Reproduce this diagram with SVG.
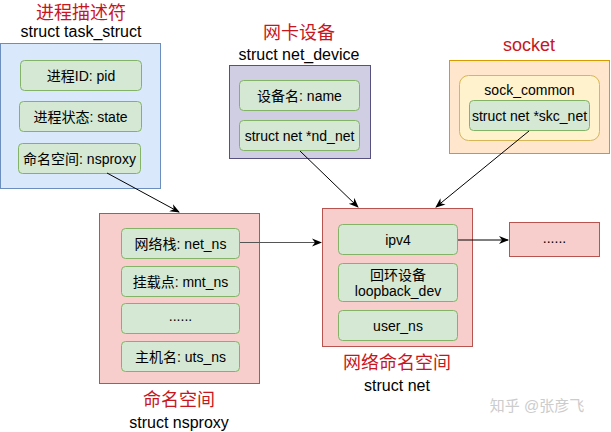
<svg xmlns="http://www.w3.org/2000/svg" width="611" height="432" viewBox="0 0 611 432">
<style>
text{font-family:"Liberation Sans","Noto Sans CJK SC",sans-serif;text-anchor:middle;dominant-baseline:central}
.t{font-size:18px;fill:#c8161d}
.s{font-size:16px;fill:#000}
.l{font-size:14px;fill:#000}
.g{fill:#d5e8d4;stroke:#82b366;stroke-width:1}
.r{fill:#f8cecc;stroke:#b85450;stroke-width:1}
.c{fill:none;stroke:#000;stroke-width:1}
</style>
<defs>
<marker id="a" viewBox="0 0 10 10" refX="9" refY="5" markerWidth="10" markerHeight="10" markerUnits="userSpaceOnUse" orient="auto">
<path d="M0,1 L10,5 L0,9 L3,5 Z" fill="#000"/>
</marker>
</defs>
<rect width="611" height="432" fill="#fff"/>
<g id="task_struct">
<text class="t" x="81" y="13">进程描述符</text>
<text class="s" x="81" y="31">struct task_struct</text>
<rect x="0.5" y="43.5" width="160" height="145" fill="#dae8fc" stroke="#6c8ebf"/>
<rect class="g" x="20.5" y="60.5" width="121" height="30" rx="4"/>
<text class="l" x="81" y="75.5">进程ID: pid</text>
<rect class="g" x="19.5" y="101.5" width="122" height="30" rx="4"/>
<text class="l" x="80.5" y="116.5">进程状态: state</text>
<rect class="g" x="18.5" y="143.5" width="122" height="30" rx="4"/>
<text class="l" x="79.5" y="158.5">命名空间: nsproxy</text>
</g>
<g id="net_device">
<text class="t" x="299" y="33">网卡设备</text>
<text class="s" x="299" y="54">struct net_device</text>
<rect x="229.5" y="65.5" width="141" height="93" fill="#d0cee2" stroke="#56517e"/>
<rect class="g" x="239.5" y="80.5" width="120" height="30" rx="4"/>
<text class="l" x="299.5" y="95.5">设备名: name</text>
<rect class="g" x="239.5" y="120.5" width="120" height="30" rx="4"/>
<text class="l" x="299.5" y="135.5">struct net *nd_net</text>
</g>
<g id="socket">
<text class="t" x="529" y="45">socket</text>
<rect x="449.5" y="60.5" width="160" height="93" fill="#ffe6cc" stroke="#d79b00"/>
<rect x="459.5" y="75.5" width="140" height="65" rx="9" fill="#fff2cc" stroke="#d6b656"/>
<text class="l" x="529.5" y="90">sock_common</text>
<rect class="g" x="469.5" y="100.5" width="120" height="30" rx="4"/>
<text class="l" x="529.5" y="115.5">struct net *skc_net</text>
</g>
<g id="nsproxy">
<rect class="r" x="99.5" y="213.5" width="160" height="170"/>
<rect class="g" x="121.5" y="228.5" width="118" height="30" rx="4"/>
<text class="l" x="180.5" y="243.5">网络栈: net_ns</text>
<rect class="g" x="121.5" y="266.5" width="118" height="30" rx="4"/>
<text class="l" x="180.5" y="281.5">挂载点: mnt_ns</text>
<rect class="g" x="121.5" y="303.5" width="118" height="30" rx="4"/>
<text class="l" x="180.5" y="316">......</text>
<rect class="g" x="121.5" y="341.5" width="118" height="30" rx="4"/>
<text class="l" x="180.5" y="356.5">主机名: uts_ns</text>
<text class="t" x="179" y="400">命名空间</text>
<text class="s" x="179" y="422">struct nsproxy</text>
</g>
<g id="net">
<rect class="r" x="322.5" y="208.5" width="150" height="138"/>
<rect class="g" x="338.5" y="224.5" width="119" height="30" rx="4"/>
<text class="l" x="398" y="239.5">ipv4</text>
<rect class="g" x="338.5" y="263.5" width="119" height="38" rx="4"/>
<text class="l" x="398" y="274.5">回环设备</text>
<text class="l" x="398" y="291">loopback_dev</text>
<rect class="g" x="338.5" y="310.5" width="119" height="30" rx="4"/>
<text class="l" x="398" y="325.5">user_ns</text>
<text class="t" x="397" y="363">网络命名空间</text>
<text class="s" x="397" y="385">struct net</text>
</g>
<g id="more">
<rect class="r" x="509.5" y="222.5" width="90" height="34"/>
<text class="l" x="554.5" y="238">......</text>
</g>
<g id="connectors">
<line class="c" x1="107" y1="173" x2="179" y2="212" marker-end="url(#a)"/>
<line class="c" x1="300" y1="151" x2="358" y2="207" marker-end="url(#a)"/>
<line class="c" x1="529" y1="131" x2="436" y2="207" marker-end="url(#a)"/>
<line x1="240" y1="242.5" x2="321" y2="242.5" stroke="#555" stroke-width="1" marker-end="url(#a)"/>
<line class="c" x1="458" y1="240" x2="508" y2="240" marker-end="url(#a)"/>
</g>
<text x="537" y="405" style="font-size:15px;fill:#cccccc">知乎 @张彦飞</text>
</svg>
